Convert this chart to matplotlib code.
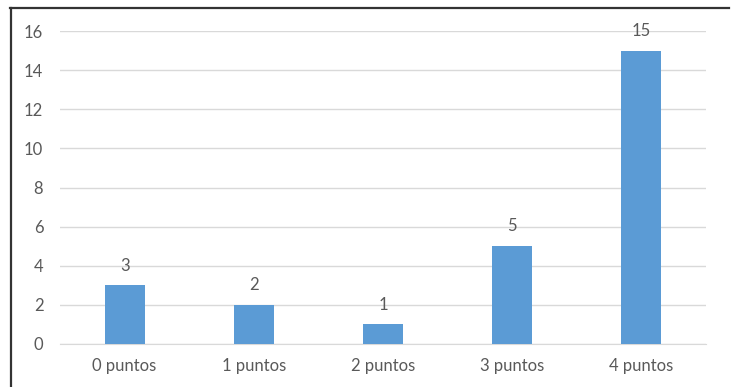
import matplotlib.pyplot as plt
from matplotlib.lines import Line2D

categories = ['0 puntos', '1 puntos', '2 puntos', '3 puntos', '4 puntos']
counts = [3, 2, 1, 5, 15]
yticks = [0, 2, 4, 6, 8, 10, 12, 14, 16]

plt.rcParams['font.family'] = ['Lato', 'DejaVu Sans']
text_color = '#595959'

fig = plt.figure(figsize=(7.37, 3.87), dpi=100)
W, H = 737, 387
ax = fig.add_axes([60 / W, 43 / H, 646 / W, 313 / H])

x = range(len(categories))
bars = ax.bar(x, counts, width=0.31, color='#5B9BD5', zorder=3)
for b, v in zip(bars, counts):
    ax.text(b.get_x() + b.get_width() / 2, v + 0.6, str(v),
            ha='center', va='bottom', fontsize=12, color=text_color)

ax.set_xlim(-0.5, len(categories) - 0.5)
ax.set_ylim(0, 16)
ax.set_yticks(yticks)
ax.set_xticks(list(x))
ax.set_xticklabels(categories)
ax.grid(axis='y', color='#d9d9d9', linewidth=1, zorder=0)
ax.tick_params(axis='both', length=0, labelsize=12, colors=text_color)
ax.tick_params(axis='y', pad=12)
ax.tick_params(axis='x', pad=10)
for s in ax.spines.values():
    s.set_visible(False)
ax.spines['bottom'].set_visible(True)
ax.spines['bottom'].set_color('#d9d9d9')

# outer frame (top and left edges only)
fig.add_artist(Line2D([10 / W, 729 / W], [1 - 8 / H, 1 - 8 / H],
                      color='#333333', linewidth=1.6, transform=fig.transFigure))
fig.add_artist(Line2D([11 / W, 11 / W], [0, 1 - 8 / H],
                      color='#333333', linewidth=1.6, transform=fig.transFigure))

fig.savefig('out.png', dpi=100)
